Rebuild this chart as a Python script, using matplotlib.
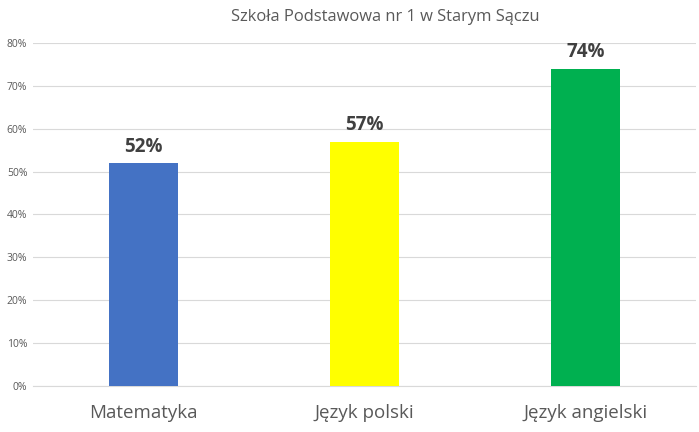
import numpy as np
import matplotlib
matplotlib.use('Agg')
import matplotlib.pyplot as plt
from matplotlib.ticker import PercentFormatter

plt.rcParams['font.family'] = ['Open Sans', 'DejaVu Sans']

categories = ['Matematyka', 'Język polski', 'Język angielski']
values = [52, 57, 74]
colors = ['#4472C4', '#FFFF00', '#00B050']
title = 'Szkoła Podstawowa nr 1 w Starym Sączu'

fig = plt.figure(figsize=(6.99, 4.32), dpi=100)
ax = fig.add_axes([0.047, 0.106, 0.949, 0.795])

x = np.arange(len(categories))
bars = ax.bar(x, values, width=0.31, color=colors, zorder=3)

for b, v in zip(bars, values):
    ax.annotate(f'{v}%', (b.get_x() + b.get_width() / 2, v),
                xytext=(0, 4.5), textcoords='offset points',
                ha='center', va='bottom', fontsize=13.5, fontweight='bold',
                color='#404040')

ax.set_xlim(-0.5, len(categories) - 0.5)
ax.set_ylim(0, 80)
ax.set_yticks(np.arange(0, 81, 10))
ax.yaxis.set_major_formatter(PercentFormatter(decimals=0))
ax.tick_params(axis='y', length=0, labelsize=7.5, labelcolor='#595959', pad=4)
ax.set_xticks(x)
ax.set_xticklabels(categories)
ax.tick_params(axis='x', length=0, labelsize=13.5, labelcolor='#595959', pad=13)
ax.grid(axis='y', color='#D9D9D9', linewidth=0.8, zorder=0)
for s in ['top', 'right', 'left']:
    ax.spines[s].set_visible(False)
ax.spines['bottom'].set_color('#D9D9D9')

fig.text(0.551, 0.96, title, ha='center', va='center', fontsize=11.9, color='#595959')

fig.savefig('out.png', dpi=100)
